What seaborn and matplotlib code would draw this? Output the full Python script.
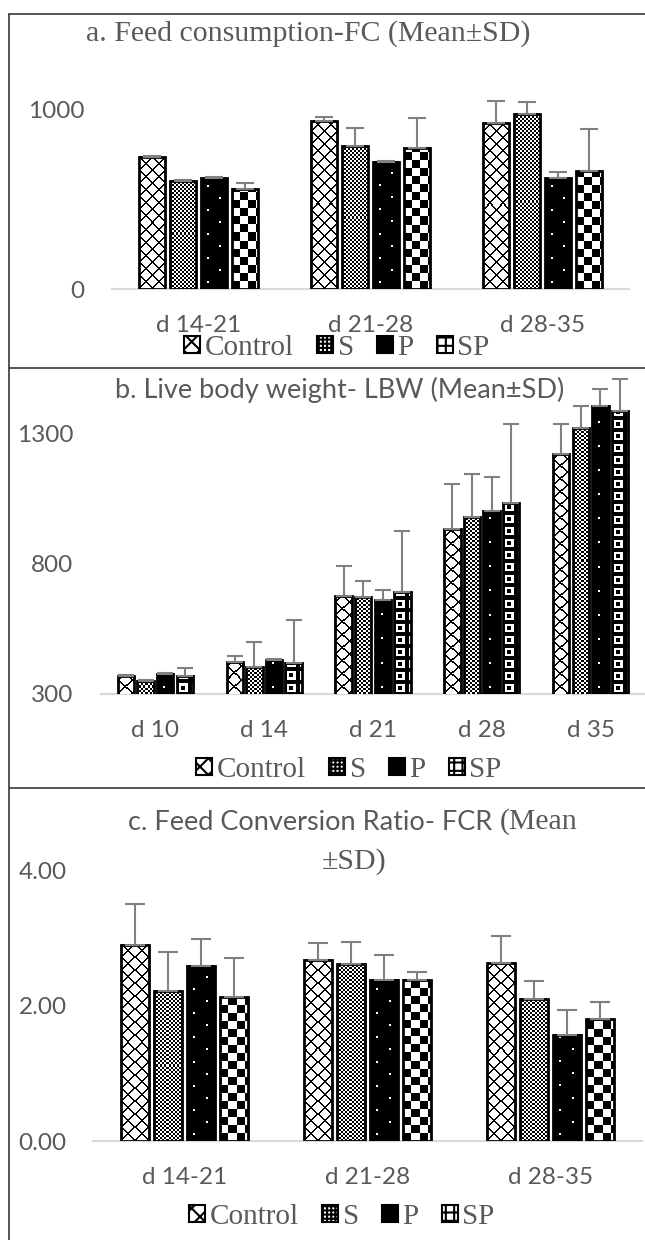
import numpy as np
import pandas as pd
import matplotlib
matplotlib.use("Agg")
import matplotlib.pyplot as plt
from matplotlib.lines import Line2D
from matplotlib.patches import Patch
import seaborn as sns

# ---------------------------
# Data
# ---------------------------
GROUPS = ["Control", "S", "P", "SP"]

FC_PERIODS = ["d 14-21", "d 21-28", "d 28-35"]
# one list per group, values per period
FC_MEAN = [[739, 940, 929], [605, 801, 978], [618, 711, 620], [559, 790, 657]]
FC_SD = [[5, 19, 123], [5, 97, 65], [5, 5, 35], [31, 165, 235]]

LBW_DAYS = ["d 10", "d 14", "d 21", "d 28", "d 35"]
LBW_MEAN = [[368, 424, 674, 931, 1218], [351, 402, 670, 977, 1320],
            [377, 429, 661, 1002, 1405], [369, 419, 689, 1033, 1384]]
LBW_SD = [[4, 22, 117, 175, 118], [3, 96, 64, 166, 83],
          [3, 4, 38, 131, 62], [31, 166, 236, 303, 123]]

FCR_PERIODS = ["d 14-21", "d 21-28", "d 28-35"]
FCR_MEAN = [[2.90, 2.68, 2.63], [2.22, 2.61, 2.10], [2.59, 2.38, 1.57], [2.12, 2.38, 1.80]]
FCR_SD = [[0.60, 0.25, 0.40], [0.57, 0.33, 0.27], [0.40, 0.37, 0.37], [0.59, 0.11, 0.26]]

# ---------------------------
# Style
# ---------------------------
W, H, DPI = 645, 1240, 100
TEXT_GRAY = "#595959"
ERR_GRAY = "#808080"
AXIS_GRAY = "#d9d9d9"
SANS = "Lato"
SERIF = "Liberation Serif"
TICK_SIZE = 17.5

sns.set_style("white")
plt.rcParams["font.family"] = [SANS, "DejaVu Sans"]
plt.rcParams["hatch.linewidth"] = 1.5


def fx(px):
    return px / W


def fy(py):
    return 1 - py / H


def long_frame(periods, means, sds):
    rows = []
    for g, m_list, s_list in zip(GROUPS, means, sds):
        for p, m, s in zip(periods, m_list, s_list):
            rows.append({"period": p, "group": g, "mean": m, "sd": s})
    return pd.DataFrame(rows)


def pattern(kind, nrow, ncol):
    i, j = np.mgrid[0:nrow, 0:ncol]
    if kind == "lattice":
        on = ((i + j) % 13 < 2) | ((i - j) % 13 < 2)
        return np.where(on, 0.0, 1.0)
    if kind == "fine":
        return ((i // 2 + j // 2) % 2).astype(float)
    if kind == "dots":
        a, b = i % 24, j % 24
        on = (((a >= 6) & (a < 8) & (b >= 6) & (b < 8))
              | ((a >= 18) & (a < 20) & (b >= 18) & (b < 20)))
        return on.astype(float)
    if kind == "checker":
        return ((i // 8 + j // 8) % 2).astype(float)
    if kind == "frames":
        a, b = i % 12, j % 12
        outer = (a >= 2) & (a <= 9) & (b >= 2) & (b <= 9)
        inner = (a >= 4) & (a <= 7) & (b >= 4) & (b <= 7)
        return (outer & ~inner).astype(float)
    return np.ones((nrow, ncol))


def fill_bars(ax, container, kind):
    ylo = ax.get_ylim()[0]
    for bar in container:
        x0, w = bar.get_x(), bar.get_width()
        y0 = max(bar.get_y(), ylo)
        y1 = bar.get_y() + bar.get_height()
        (px0, py0), (px1, py1) = ax.transData.transform([(x0, y0), (x0 + w, y1)])
        ncol = max(int(round(px1 - px0)), 1)
        nrow = max(int(round(py1 - py0)), 1)
        ax.imshow(pattern(kind, nrow, ncol), extent=(x0, x0 + w, y0, y1),
                  origin="lower", cmap="gray", vmin=0, vmax=1,
                  interpolation="nearest", aspect="auto", zorder=2)
        bar.set_facecolor("none")
        bar.set_edgecolor("black")
        bar.set_linewidth(2.0)
        bar.set_zorder(3)


def panel(fig, rect, periods, means, sds, ylim, yticks, yfmt, kinds, capsize, ypad):
    ax = fig.add_axes(rect)
    df = long_frame(periods, means, sds)
    sns.barplot(data=df, x="period", y="mean", hue="group", hue_order=GROUPS,
                palette=["white"] * 4, errorbar=None, width=0.72, gap=0.17,
                legend=False, ax=ax)
    ax.set_xlim(-0.5, len(periods) - 0.5)
    ax.set_ylim(*ylim)

    for container, kind, sd in zip(ax.containers, kinds, sds):
        xs = [b.get_x() + b.get_width() / 2 for b in container]
        ys = [b.get_y() + b.get_height() for b in container]
        fill_bars(ax, container, kind)
        ax.errorbar(xs, ys, yerr=[np.zeros(len(sd)), sd], fmt="none",
                    ecolor=ERR_GRAY, elinewidth=1.5, capsize=capsize,
                    capthick=1.5, zorder=4)

    ax.set_xlim(-0.5, len(periods) - 0.5)
    ax.set_ylim(*ylim)
    ax.set_yticks(yticks)
    ax.set_yticklabels([yfmt.format(v) for v in yticks])
    ax.set_xlabel("")
    ax.set_ylabel("")
    for side in ["top", "right", "left"]:
        ax.spines[side].set_visible(False)
    ax.spines["bottom"].set_color(AXIS_GRAY)
    ax.spines["bottom"].set_linewidth(1.5)
    ax.spines["bottom"].set_zorder(1)
    ax.tick_params(axis="x", length=0, pad=19, labelsize=TICK_SIZE, labelcolor=TEXT_GRAY)
    ax.tick_params(axis="y", length=0, pad=ypad, labelsize=TICK_SIZE, labelcolor=TEXT_GRAY)
    ax.patch.set_visible(False)
    return ax


def add_legend(fig, cx, cy):
    handles = [
        Patch(facecolor="white", edgecolor="black", hatch="xx", linewidth=1.5),
        Patch(facecolor="white", edgecolor="black", hatch="++++", linewidth=1.5),
        Patch(facecolor="black", edgecolor="black", linewidth=1.5),
        Patch(facecolor="white", edgecolor="black", hatch="++", linewidth=1.5),
    ]
    fig.legend(handles, GROUPS, loc="center", bbox_to_anchor=(fx(cx), fy(cy)),
               ncol=4, frameon=False, prop={"family": SERIF, "size": 21},
               labelcolor=TEXT_GRAY, handlelength=0.55, handleheight=0.55,
               handletextpad=0.15, columnspacing=0.8, borderaxespad=0)


fig = plt.figure(figsize=(W / DPI, H / DPI), dpi=DPI)

# a. Feed consumption
panel(fig, [fx(112), fy(289), fx(629) - fx(112), (289 - 74.2) / H],
      FC_PERIODS, FC_MEAN, FC_SD, (0, 1200), [0, 1000], "{:.0f}",
      ["lattice", "fine", "dots", "checker"], 6.5, 20)
fig.text(fx(308), fy(34), "a. Feed consumption-FC (Mean±SD)", ha="center",
         va="center", family=SERIF, size=21.5, color=TEXT_GRAY)
add_legend(fig, 337, 348)

# b. Live body weight
panel(fig, [fx(101), fy(694), fx(645) - fx(101), 1220 * 0.261 / H],
      LBW_DAYS, LBW_MEAN, LBW_SD, (300, 1520), [300, 800, 1300], "{:.0f}",
      ["lattice", "fine", "dots", "frames"], 5.5, 20)
fig.text(fx(340), fy(390), "b. Live body weight- LBW (Mean±SD)", ha="center",
         va="center", size=19.5, color=TEXT_GRAY)
add_legend(fig, 349, 770)

# c. Feed conversion ratio
panel(fig, [fx(93), fy(1141), fx(642) - fx(93), 4.5 * 67.7 / H],
      FCR_PERIODS, FCR_MEAN, FCR_SD, (0, 4.5), [0, 2, 4], "{:.2f}",
      ["lattice", "fine", "dots", "checker"], 7, 19)
fig.text(fx(492), fy(822), "c. Feed Conversion Ratio- FCR", ha="right",
         va="center", size=19.5, color=TEXT_GRAY)
fig.text(fx(500), fy(822), "(Mean", ha="left", va="center", family=SERIF,
         size=21.5, color=TEXT_GRAY)
fig.text(fx(354), fy(862), "±SD)", ha="center", va="center", family=SERIF,
         size=21.5, color=TEXT_GRAY)
add_legend(fig, 342, 1217)

# panel frames
frame_kw = dict(transform=fig.transFigure, color="#3a3a3a", linewidth=1.2)
fig.add_artist(Line2D([fx(9), fx(9)], [fy(14), 0], **frame_kw))
for y in [14, 368, 788]:
    fig.add_artist(Line2D([fx(9), 1], [fy(y), fy(y)], **frame_kw))

fig.savefig("out.png", dpi=DPI, facecolor="white")
